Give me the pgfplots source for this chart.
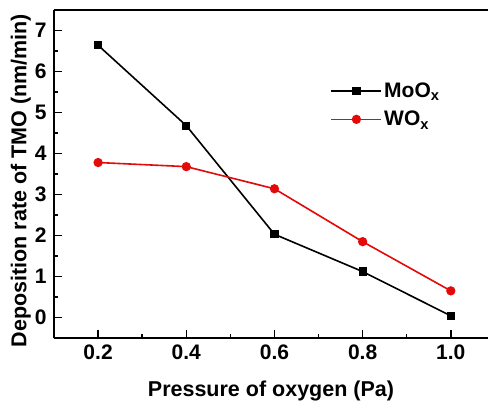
\documentclass[border=0pt]{standalone}
\usepackage{fontspec}
\setmainfont{Liberation Sans}
\usepackage{pgfplots}
\pgfplotsset{compat=1.18}

\definecolor{wred}{RGB}{228,10,10}

\begin{document}
\begin{tikzpicture}[x=1pt,y=1pt]
\useasboundingbox (-54,-64) rectangle (434,338);
\begin{axis}[
    scale only axis,
    width=434pt, height=328pt,
    xmin=0.1, xmax=1.0843,
    ymin=-0.5, ymax=7.5,
    axis x line=box, axis y line=left,
    axis line style={line width=1.7pt, -},
    xtick={0.2,0.4,...,1.0},
    xticklabels={0.2,0.4,0.6,0.8,1.0},
    minor xtick={0.3,0.5,0.7,0.9},
    ytick={0,...,7},
    minor ytick={-0.5,0.5,1.5,...,6.5},
    tick align=inside,
    xtick pos=bottom,
    major tick length=8pt, minor tick length=4pt,
    every tick/.style={black, line width=1.4pt},
    tick label style={font=\fontsize{21}{21}\selectfont\bfseries},
    /pgf/number format/assume math mode=true,
    xticklabel style={yshift=-3pt},
    yticklabel style={xshift=-4pt},
    label style={font=\fontsize{21.5}{21.5}\selectfont\bfseries},
    xlabel={Pressure of oxygen (Pa)},
    ylabel={Deposition rate of TMO (nm/min)},
    xlabel style={yshift=-15pt},
    ylabel style={at={(ticklabel cs:0.48)}, yshift=-3pt},
    legend style={draw=none, fill=none, at={(axis description cs:0.63,0.79)}, anchor=north west,
        font=\fontsize{21}{21}\selectfont\bfseries, row sep=8pt},
    legend cell align=left,
    legend image code/.code={
        \draw[#1, mark repeat=2, mark phase=2] plot coordinates {(0pt,0pt) (25pt,0pt) (50pt,0pt)};
    },
]
\addplot[black, line width=1.6pt, mark=square*, mark size=3.3pt, mark options={solid}]
    coordinates {(0.2,6.64) (0.4,4.68) (0.6,2.03) (0.8,1.12) (1.0,0.04)};
\addlegendentry{MoO\textsubscript{x}}
\addplot[wred, line width=1.6pt, mark=*, mark size=3.8pt, mark options={solid}]
    coordinates {(0.2,3.78) (0.4,3.68) (0.6,3.14) (0.8,1.85) (1.0,0.65)};
\addlegendentry{WO\textsubscript{x}}
\end{axis}
\end{tikzpicture}
\end{document}
